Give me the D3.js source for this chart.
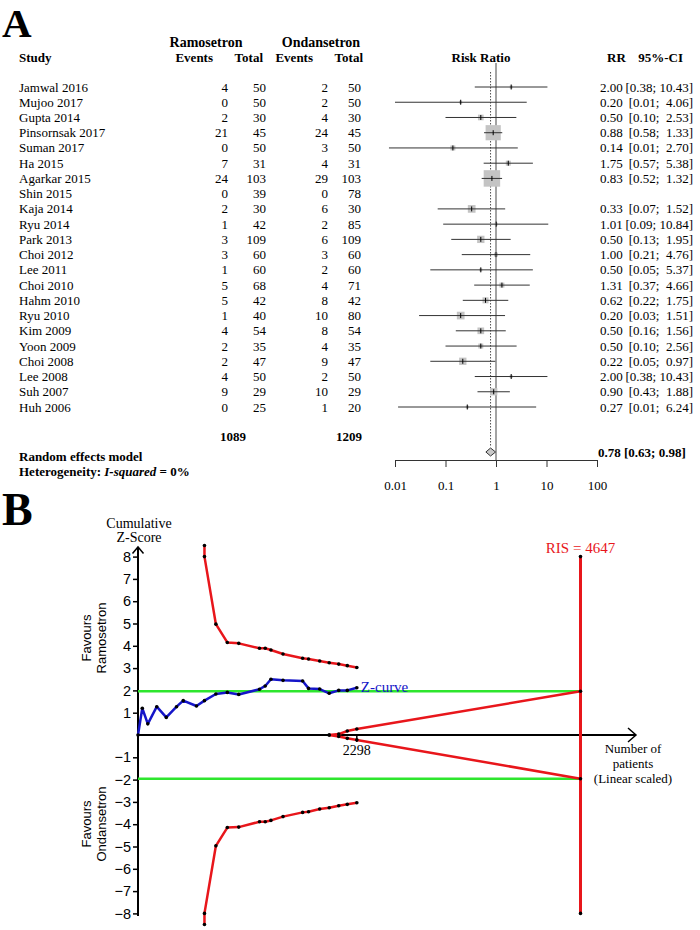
<!DOCTYPE html>
<html><head><meta charset="utf-8">
<script src="https://cdn.jsdelivr.net/npm/d3@7"></script>
<style>body{margin:0;background:#fff}svg{display:block}</style>
</head><body>
<svg id="c" width="700" height="930"></svg>
<script>
// ---------- Panel A data ----------
const studies = ["Jamwal 2016","Mujoo 2017","Gupta 2014","Pinsornsak 2017","Suman 2017","Ha 2015","Agarkar 2015","Shin 2015","Kaja 2014","Ryu 2014","Park 2013","Choi 2012","Lee 2011","Choi 2010","Hahm 2010","Ryu 2010","Kim 2009","Yoon 2009","Choi 2008","Lee 2008","Suh 2007","Huh 2006"];
const evT  = [4,0,2,21,0,7,24,0,2,1,3,3,1,5,5,1,4,2,2,4,9,0];
const totT = [50,50,30,45,50,31,103,39,30,42,109,60,60,68,42,40,54,35,47,50,29,25];
const evC  = [2,2,4,24,3,4,29,0,6,2,6,3,2,4,8,10,8,4,9,2,10,1];
const totC = [50,50,30,45,50,31,103,78,30,85,109,60,60,71,42,80,54,35,47,50,29,20];
const rr   = [2.00,0.20,0.50,0.88,0.14,1.75,0.83,null,0.33,1.01,0.50,1.00,0.50,1.31,0.62,0.20,0.50,0.50,0.22,2.00,0.90,0.27];
const ciLo = [0.38,0.01,0.10,0.58,0.0076,0.57,0.52,null,0.07,0.09,0.13,0.21,0.05,0.37,0.22,0.03,0.16,0.10,0.05,0.38,0.43,0.0115];
const ciHi = [10.43,4.06,2.53,1.33,2.70,5.38,1.32,null,1.52,10.84,1.95,4.76,5.37,4.66,1.75,1.51,1.56,2.56,0.97,10.43,1.88,6.24];
const weights = [1.1,1.1,3.9,28,3.0,3.0,33,null,7.2,1.1,6.5,1.9,1.1,3.0,4.4,7.2,5.4,3.0,6.5,1.1,6.5,1.1];
const totals = [1089, 1209];
const pooledRR = 0.78, pooledLo = 0.63, pooledHi = 0.98;
const rrTicks = [0.01, 0.1, 1, 10, 100];

// ---------- Panel B data ----------
const cumN   = [0,45,103,197,297,405,475,614,698,818,938,1058,1276,1336,1396,1523,1729,1791,1908,2008,2108,2198,2298];
const zCurve = [0,1.2,0.5,1.27,0.79,1.27,1.54,1.3,1.54,1.84,1.91,1.82,2.05,2.2,2.5,2.45,2.42,2.09,2.06,1.87,2.0,2.0,2.12];
const bndN   = [698,698,818,938,1058,1276,1336,1396,1523,1729,1791,1908,2008,2108,2198,2298];
const upperB = [8.5,8.0,4.97,4.15,4.11,3.89,3.89,3.81,3.63,3.44,3.41,3.32,3.24,3.18,3.11,3.03];
const lowerB = [-8.5,-8.0,-4.97,-4.15,-4.13,-3.89,-3.89,-3.83,-3.66,-3.47,-3.44,-3.32,-3.26,-3.17,-3.11,-3.04];
const futN   = [2008,2108,2198,2298,4647];
const futUp  = [0,0.04,0.18,0.27,1.96];
const futLo  = [0,-0.07,-0.15,-0.22,-1.96];
const RIS = 4647, infoSize = 2298, zCrit = 1.96;
const zTicks = [8,7,6,5,4,3,2,1,-1,-2,-3,-4,-5,-6,-7,-8];

const svg = d3.select("#c");
const serif = "'Liberation Serif','Times New Roman',serif";
const sans = "'Liberation Sans',Arial,sans-serif";
const f2 = d3.format(".2f");
const NB = "\u00A0";
const pad = (s, w) => NB.repeat(Math.max(0, w - s.length)) + s;

// ================= Panel A =================
const A = svg.append("g").attr("font-family", serif).attr("font-size", 13).attr("fill", "#000");
svg.append("text").attr("x", 2).attr("y", 37).attr("font-family", serif).attr("font-weight", "bold").attr("font-size", 41).text("A");

const hdr = A.append("g").attr("font-weight", "bold");
hdr.append("text").attr("x", 206).attr("y", 47).attr("text-anchor", "middle").attr("font-size", 14).text("Ramosetron");
hdr.append("text").attr("x", 321).attr("y", 47).attr("text-anchor", "middle").attr("font-size", 14).text("Ondansetron");
hdr.append("text").attr("x", 19).attr("y", 62).text("Study");
hdr.append("text").attr("x", 213).attr("y", 62).attr("text-anchor", "end").text("Events");
hdr.append("text").attr("x", 263).attr("y", 62).attr("text-anchor", "end").text("Total");
hdr.append("text").attr("x", 313).attr("y", 62).attr("text-anchor", "end").text("Events");
hdr.append("text").attr("x", 363).attr("y", 62).attr("text-anchor", "end").text("Total");
hdr.append("text").attr("x", 481).attr("y", 62).attr("text-anchor", "middle").text("Risk Ratio");
hdr.append("text").attr("x", 607).attr("y", 62).text("RR");
hdr.append("text").attr("x", 683).attr("y", 62).attr("text-anchor", "end").text("95%-CI");

const x = d3.scaleLog().domain([0.01, 100]).range([395, 597]);
const rowY = d3.scaleLinear().domain([0, studies.length - 1]).range([87, 407]);

// reference lines
A.append("line").attr("x1", x(1)).attr("x2", x(1)).attr("y1", 63).attr("y2", 460)
  .attr("stroke", "#666").attr("stroke-width", 1.2);
A.append("line").attr("x1", x(pooledRR)).attr("x2", x(pooledRR)).attr("y1", 72).attr("y2", 447)
  .attr("stroke", "#222").attr("stroke-width", 0.8).attr("stroke-dasharray", "1.5,1.5");

studies.forEach((s, i) => {
  const y = rowY(i);
  A.append("text").attr("x", 19).attr("y", y + 4.5).text(s);
  A.append("text").attr("x", 228).attr("y", y + 4.5).attr("text-anchor", "end").text(evT[i]);
  A.append("text").attr("x", 266).attr("y", y + 4.5).attr("text-anchor", "end").text(totT[i]);
  A.append("text").attr("x", 328).attr("y", y + 4.5).attr("text-anchor", "end").text(evC[i]);
  A.append("text").attr("x", 361).attr("y", y + 4.5).attr("text-anchor", "end").text(totC[i]);
  if (rr[i] != null) {
    const side = 2.87 * Math.sqrt(weights[i]);
    A.append("rect").attr("x", x(rr[i]) - side / 2).attr("y", y - side / 2)
      .attr("width", side).attr("height", side).attr("fill", "#c4c4c4");
    A.append("line").attr("x1", x(ciLo[i])).attr("x2", x(ciHi[i])).attr("y1", y).attr("y2", y)
      .attr("stroke", "#333").attr("stroke-width", 1);
    A.append("line").attr("x1", x(rr[i])).attr("x2", x(rr[i])).attr("y1", y - 2.5).attr("y2", y + 2.5)
      .attr("stroke", "#000").attr("stroke-width", 1);
    A.append("text").attr("x", 600).attr("y", y + 4.5).text(f2(rr[i]));
    A.append("text").attr("x", 693).attr("y", y + 4.5).attr("text-anchor", "end")
      .text("[" + f2(ciLo[i]) + ";" + NB + pad(f2(ciHi[i]), 5) + "]");
  }
});

// totals
A.append("text").attr("x", 246).attr("y", 441).attr("text-anchor", "end").attr("font-weight", "bold").text(totals[0]);
A.append("text").attr("x", 362).attr("y", 441).attr("text-anchor", "end").attr("font-weight", "bold").text(totals[1]);

// pooled
const dy = 452;
A.append("path").attr("d", `M${x(pooledLo)},${dy}L${x(pooledRR)},${dy - 4}L${x(pooledHi)},${dy}L${x(pooledRR)},${dy + 4}Z`)
  .attr("fill", "#c8c8c8").attr("stroke", "#333").attr("stroke-width", 1);
A.append("text").attr("x", 19).attr("y", 461).attr("font-weight", "bold").text("Random effects model");
A.append("text").attr("x", 598).attr("y", 457).attr("font-weight", "bold")
  .text(f2(pooledRR) + " [" + f2(pooledLo) + ";" + NB + f2(pooledHi) + "]");
const het = A.append("text").attr("x", 19).attr("y", 476).attr("font-weight", "bold");
het.append("tspan").text("Heterogeneity: ");
het.append("tspan").attr("font-style", "italic").text("I-squared");
het.append("tspan").text(" = 0%");

// RR axis
const ax = A.append("g").attr("transform", "translate(0,460)")
  .call(d3.axisBottom(x).tickValues(rrTicks).tickFormat(d => String(d)).tickSize(7).tickPadding(14).tickSizeOuter(0));
ax.selectAll("text").attr("font-family", serif).attr("font-size", 13).attr("fill", "#000");
ax.selectAll("line").attr("stroke", "#333");
ax.select(".domain").attr("stroke", "#333");

// ================= Panel B =================
svg.append("text").attr("x", 2).attr("y", 525).attr("font-family", serif).attr("font-weight", "bold").attr("font-size", 46).text("B");

const B = svg.append("g");
const xs = d3.scaleLinear().domain([0, RIS]).range([138, 580.5]);
const ys = d3.scaleLinear().domain([-8, 8]).range([913.4, 556.6]);

// y axis
const yAx = B.append("g").attr("transform", "translate(138,0)")
  .call(d3.axisLeft(ys).tickValues(zTicks).tickSize(5).tickPadding(2)
    .tickFormat(d => d < 0 ? "\u2212" + Math.abs(d) : String(d)));
yAx.select(".domain").remove();
yAx.selectAll("line").attr("stroke", "#000").attr("stroke-width", 1.5);
yAx.selectAll("text").attr("font-family", sans).attr("font-size", 14.5).attr("fill", "#000");
B.append("line").attr("x1", 138).attr("x2", 138).attr("y1", 547).attr("y2", 916).attr("stroke", "#000").attr("stroke-width", 2);
B.append("path").attr("d", "M132.5,553.5L138,547L143.5,553.5").attr("fill", "none").attr("stroke", "#000").attr("stroke-width", 1.5);

// x axis
B.append("line").attr("x1", 138).attr("x2", 636).attr("y1", ys(0)).attr("y2", ys(0)).attr("stroke", "#000").attr("stroke-width", 1.8);
B.append("path").attr("d", `M628,${ys(0) - 7}L636,${ys(0)}L628,${ys(0) + 7}`).attr("fill", "none").attr("stroke", "#000").attr("stroke-width", 1.5);
B.append("line").attr("x1", xs(infoSize)).attr("x2", xs(infoSize)).attr("y1", ys(0)).attr("y2", ys(0) + 7).attr("stroke", "#000").attr("stroke-width", 1.5);
B.append("text").attr("x", xs(infoSize)).attr("y", 755).attr("text-anchor", "middle")
  .attr("font-family", serif).attr("font-size", 14).text(infoSize);

// labels
const cz = B.append("text").attr("font-family", serif).attr("font-size", 14).attr("text-anchor", "middle");
cz.append("tspan").attr("x", 139).attr("y", 528).text("Cumulative");
cz.append("tspan").attr("x", 139).attr("y", 542).text("Z-Score");
const np = B.append("text").attr("font-family", serif).attr("font-size", 13).attr("text-anchor", "middle");
np.append("tspan").attr("x", 633).attr("y", 753).text("Number of");
np.append("tspan").attr("x", 633).attr("y", 768).text("patients");
np.append("tspan").attr("x", 633).attr("y", 783).text("(Linear scaled)");

function favours(cy, l1, l2) {
  const t = B.append("text").attr("font-family", sans).attr("font-size", 13).attr("text-anchor", "middle")
    .attr("transform", `translate(0,${cy}) rotate(-90)`);
  t.append("tspan").attr("x", 0).attr("y", 91).text(l1);
  t.append("tspan").attr("x", 0).attr("y", 106).text(l2);
}
favours(638, "Favours", "Ramosetron");
favours(824, "Favours", "Ondansetron");

// green lines
[zCrit, -zCrit].forEach(z => {
  B.append("line").attr("x1", xs(0)).attr("x2", xs(RIS)).attr("y1", ys(z)).attr("y2", ys(z))
    .attr("stroke", "#2ee62e").attr("stroke-width", 2.5);
});

const red = "#e8161b";
// RIS line
B.append("line").attr("x1", xs(RIS)).attr("x2", xs(RIS)).attr("y1", ys(8)).attr("y2", ys(-8))
  .attr("stroke", red).attr("stroke-width", 3);
B.append("text").attr("x", xs(RIS)).attr("y", 553).attr("text-anchor", "middle").attr("font-family", serif)
  .attr("font-size", 15).attr("fill", red).text("RIS = " + RIS);

const line = d3.line().x(d => xs(d[0])).y(d => ys(d[1]));
const up = bndN.map((n, i) => [n, upperB[i]]);
const lo = bndN.map((n, i) => [n, lowerB[i]]);
const fu = futN.map((n, i) => [n, futUp[i]]);
const fl = futN.map((n, i) => [n, futLo[i]]);
const zc = cumN.map((n, i) => [n, zCurve[i]]);
[up, lo, fu, fl].forEach(d => {
  B.append("path").attr("d", line(d)).attr("fill", "none").attr("stroke", red).attr("stroke-width", 2.5).attr("stroke-linejoin", "round");
});
B.append("path").attr("d", line(zc)).attr("fill", "none").attr("stroke", "#1515c8").attr("stroke-width", 2.5).attr("stroke-linejoin", "round");
B.append("text").attr("x", xs(infoSize) + 4).attr("y", ys(zCurve[zCurve.length - 1]) + 4).attr("font-family", serif)
  .attr("font-size", 15).attr("fill", "#1515c8").text("Z-curve");

// dots
const dots = [...up, ...lo, ...fu, ...fl, ...zc, [RIS, 8], [RIS, -8]];
B.selectAll("circle.dot").data(dots).join("circle").attr("class", "dot")
  .attr("cx", d => xs(d[0])).attr("cy", d => ys(d[1])).attr("r", 1.8).attr("fill", "#000");
</script>
</body></html>
